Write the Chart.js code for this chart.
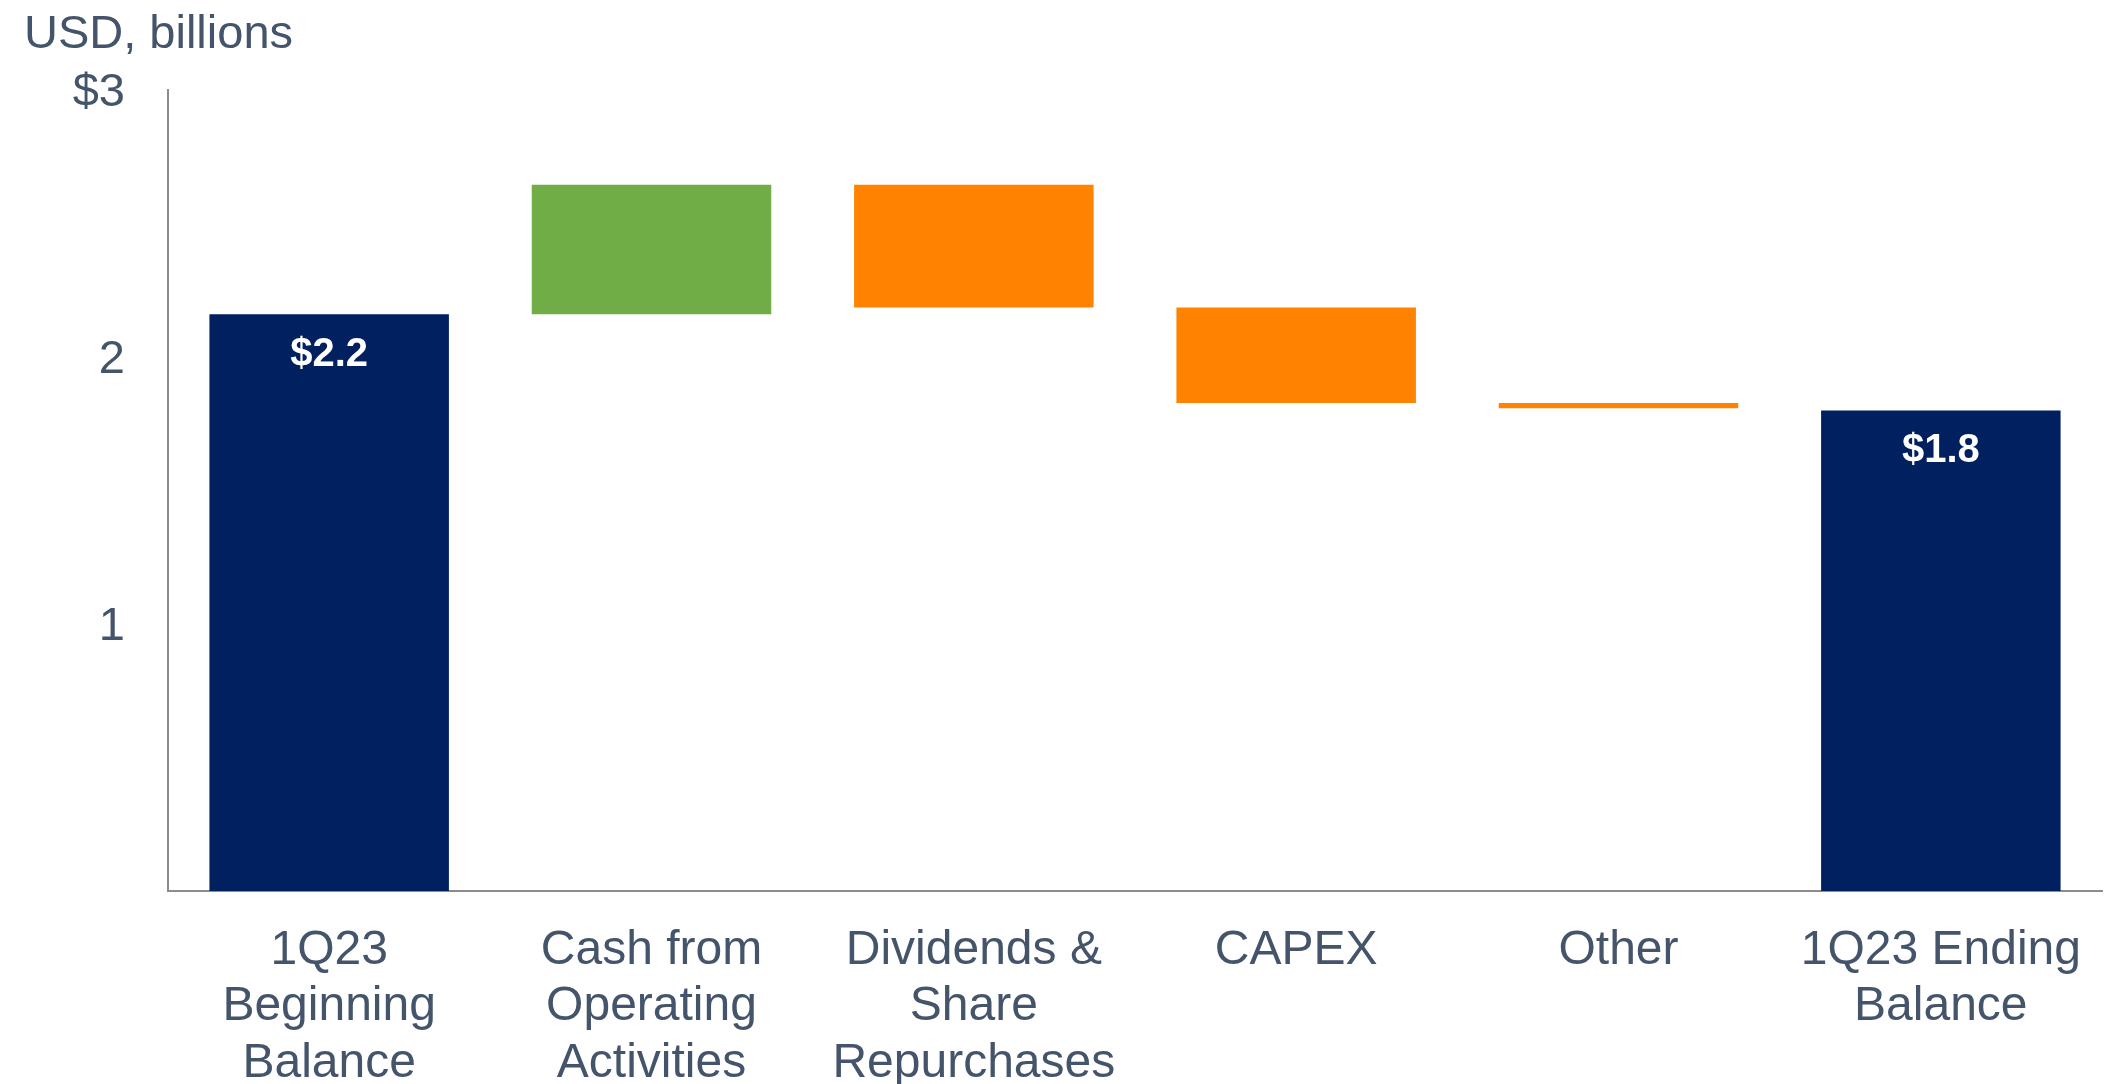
<!DOCTYPE html>
<html>
<head>
<meta charset="utf-8">
<script src="https://cdn.jsdelivr.net/npm/chart.js@4.4.0/dist/chart.umd.min.js"></script>
<style>
  html, body { margin: 0; padding: 0; background: #fff; }
  #wrap { width: 2122px; height: 1084px; position: relative; }
</style>
</head>
<body>
<div id="wrap"><canvas id="chart"></canvas></div>
<script>
// Waterfall data (USD, billions)
const categories = [
  ['1Q23', 'Beginning', 'Balance'],
  ['Cash from', 'Operating', 'Activities'],
  ['Dividends &', 'Share', 'Repurchases'],
  ['CAPEX'],
  ['Other'],
  ['1Q23 Ending', 'Balance']
];
const beginningBalance = 2.16;
const changes = [0.485, -0.46, -0.357, -0.02];
const endingBalance = 1.80;
const balanceLabels = ['$2.2', '$1.8'];
const yTicks = [0, 1, 2, 3];
const yTickLabels = ['', '1', '2', '$3'];

const NAVY = '#002060';
const GREEN = '#70AD47';
const ORANGE = '#FF8300';
const TEXT = '#44546A';
const FONT = "'Liberation Sans', Arial, sans-serif";

// build floating bar ranges from the running total
const ranges = [[0, beginningBalance]];
const colors = [NAVY];
let running = beginningBalance;
changes.forEach(d => {
  const next = running + d;
  ranges.push([Math.min(running, next), Math.max(running, next)]);
  colors.push(d >= 0 ? GREEN : ORANGE);
  running = next;
});
ranges.push([0, endingBalance]);
colors.push(NAVY);

// white value labels inside the balance bars + unit caption
const labelPlugin = {
  id: 'labels',
  afterDatasetsDraw(chart) {
    const ctx = chart.ctx;
    const bars = chart.getDatasetMeta(0).data;
    ctx.save();
    ctx.fillStyle = '#fff';
    ctx.font = 'bold 40px ' + FONT;
    ctx.textAlign = 'center';
    ctx.textBaseline = 'middle';
    [0, bars.length - 1].forEach((idx, i) => {
      const b = bars[idx];
      ctx.fillText(balanceLabels[i], b.x, b.y + 41);
    });
    ctx.restore();
  },
  afterDraw(chart) {
    const ctx = chart.ctx;
    ctx.save();
    ctx.fillStyle = TEXT;
    ctx.font = '47px ' + FONT;
    ctx.textAlign = 'left';
    ctx.textBaseline = 'alphabetic';
    ctx.fillText('USD, billions', 24, 48);
    ctx.restore();
  }
};

new Chart(document.getElementById('chart'), {
  type: 'bar',
  data: {
    labels: categories,
    datasets: [{
      data: ranges,
      backgroundColor: colors,
      borderWidth: 0,
      barPercentage: 0.743,
      categoryPercentage: 1.0
    }]
  },
  options: {
    responsive: true,
    maintainAspectRatio: false,
    animation: false,
    layout: { padding: { top: 90, right: 20, bottom: 0, left: 0 } },
    plugins: {
      legend: { display: false },
      tooltip: { enabled: false }
    },
    scales: {
      x: {
        afterFit(scale) { scale.height = 193; },
        grid: { display: false, drawTicks: false, tickLength: 0 },
        border: { display: true, color: '#8C8C8C', width: 2 },
        ticks: {
          color: TEXT,
          font: { family: FONT, size: 48, lineHeight: 1.17 },
          padding: 32,
          maxRotation: 0,
          autoSkip: false
        }
      },
      y: {
        min: 0,
        max: 3,
        afterFit(scale) { scale.width = 168; },
        afterBuildTicks(scale) { scale.ticks = yTicks.map(v => ({ value: v })); },
        grid: { display: false, drawTicks: false, tickLength: 0 },
        border: { display: true, color: '#8C8C8C', width: 2 },
        ticks: {
          color: TEXT,
          font: { family: FONT, size: 47 },
          padding: 43,
          labelOffset: 3,
          callback: (v) => yTickLabels[yTicks.indexOf(v)]
        }
      }
    }
  },
  plugins: [labelPlugin]
});
</script>
</body>
</html>
